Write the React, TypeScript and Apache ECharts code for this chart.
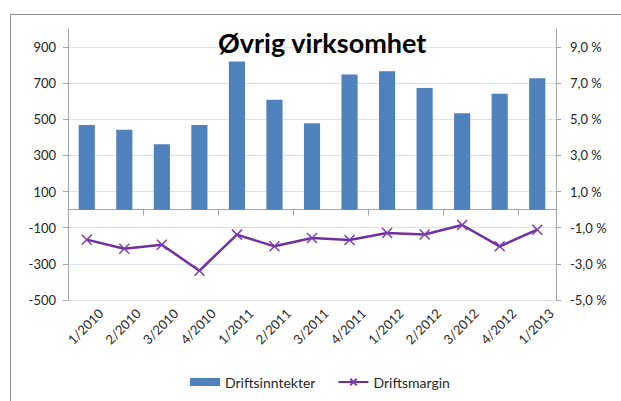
import React, { useEffect, useRef } from "react";
import * as echarts from "echarts";

const categories = [
  "1/2010", "2/2010", "3/2010", "4/2010",
  "1/2011", "2/2011", "3/2011", "4/2011",
  "1/2012", "2/2012", "3/2012", "4/2012",
  "1/2013",
];
const driftsinntekter = [469, 443, 362, 469, 820, 609, 479, 748, 766, 674, 534, 641, 728];
const driftsmargin = [-1.66, -2.16, -1.94, -3.38, -1.38, -2.03, -1.57, -1.68, -1.29, -1.37, -0.85, -2.03, -1.11];

const FONT = "Lato";
const TEXT = "#262626";

export default function App() {
  const ref = useRef<HTMLDivElement>(null);
  useEffect(() => {
    if (!ref.current) return;
    const chart = echarts.init(ref.current, undefined, { renderer: "svg" });
    const xMark = "path://M0,0 L10,10 M10,0 L0,10";
    chart.setOption({
      animation: false,
      textStyle: { fontFamily: FONT },
      title: {
        text: "Øvrig virksomhet",
        left: 213,
        top: 24,
        textStyle: { fontFamily: FONT, fontSize: 27, fontWeight: "bold", color: "#000" },
      },
      graphic: [
        {
          type: "rect",
          shape: { x: 10.5, y: 14.5, width: 700, height: 500 },
          style: { fill: "none", stroke: "#8c8c8c", lineWidth: 1 },
          silent: true,
          z: -10,
        },
      ],
      legend: {
        bottom: 7,
        left: 185,
        itemWidth: 30,
        itemHeight: 8,
        itemGap: 22,
        textStyle: { fontFamily: FONT, fontSize: 14, color: TEXT },
        data: [
          { name: "Driftsinntekter", icon: "rect" },
          { name: "Driftsmargin" },
        ],
      },
      grid: [
        { left: 68, right: 65, top: 29, bottom: 101, containLabel: false },
        { left: 82, right: 51, top: 29, bottom: 101, containLabel: false },
      ],
      xAxis: [
        {
          type: "category",
          gridIndex: 0,
          data: categories,
          axisLine: { onZero: true, lineStyle: { color: "#a6a6a6" } },
          axisTick: { show: true, alignWithLabel: false, length: 6, lineStyle: { color: "#a6a6a6" } },
          axisLabel: { show: false },
          splitLine: { show: false },
        },
        {
          type: "category",
          gridIndex: 1,
          data: categories,
          position: "bottom",
          axisLine: { show: false, onZero: false },
          axisTick: { show: false },
          axisLabel: {
            rotate: 45,
            margin: 11,
            interval: 0,
            fontFamily: FONT,
            fontSize: 13,
            color: TEXT,
          },
        },
      ],
      yAxis: [
        {
          type: "value",
          gridIndex: 0,
          min: -500,
          max: 1000,
          interval: 200,
          axisLine: { show: true, lineStyle: { color: "#a6a6a6" } },
          axisTick: { show: true, length: 5, lineStyle: { color: "#a6a6a6" } },
          axisLabel: {
            showMaxLabel: false,
            margin: 12,
            fontFamily: FONT,
            fontSize: 13,
            color: TEXT,
          },
          splitLine: { show: true, showMaxLine: false, lineStyle: { color: "#d9e3f0", width: 1 } },
        },
        {
          type: "value",
          gridIndex: 0,
          min: -5,
          max: 10,
          interval: 2,
          position: "right",
          axisLine: { show: true, lineStyle: { color: "#a6a6a6" } },
          axisTick: { show: true, length: 5, lineStyle: { color: "#a6a6a6" } },
          axisLabel: {
            showMaxLabel: false,
            margin: 14,
            fontFamily: FONT,
            fontSize: 13,
            color: TEXT,
            formatter: (v: number) => v.toFixed(1).replace(".", ",") + " %",
          },
          splitLine: { show: false },
        },
        {
          type: "value",
          gridIndex: 1,
          min: -500,
          max: 1000,
          show: false,
        },
      ],
      series: [
        {
          name: "Driftsinntekter",
          type: "bar",
          xAxisIndex: 0,
          yAxisIndex: 0,
          data: driftsinntekter,
          barWidth: "43%",
          itemStyle: { color: "#4f81bd" },
        },
        {
          name: "Driftsmargin",
          type: "line",
          xAxisIndex: 0,
          yAxisIndex: 1,
          data: driftsmargin,
          symbol: xMark,
          symbolSize: 10,
          showAllSymbol: true,
          lineStyle: { color: "#7030a0", width: 2.5 },
          itemStyle: { color: "#7030a0", borderColor: "#7b3fb0", borderWidth: 1.5 },
        },
      ],
    });
    return () => chart.dispose();
  }, []);
  return (
    <div
      ref={ref}
      style={{ position: "absolute", left: 0, top: 0, width: 621, height: 401, background: "#fff" }}
    />
  );
}
